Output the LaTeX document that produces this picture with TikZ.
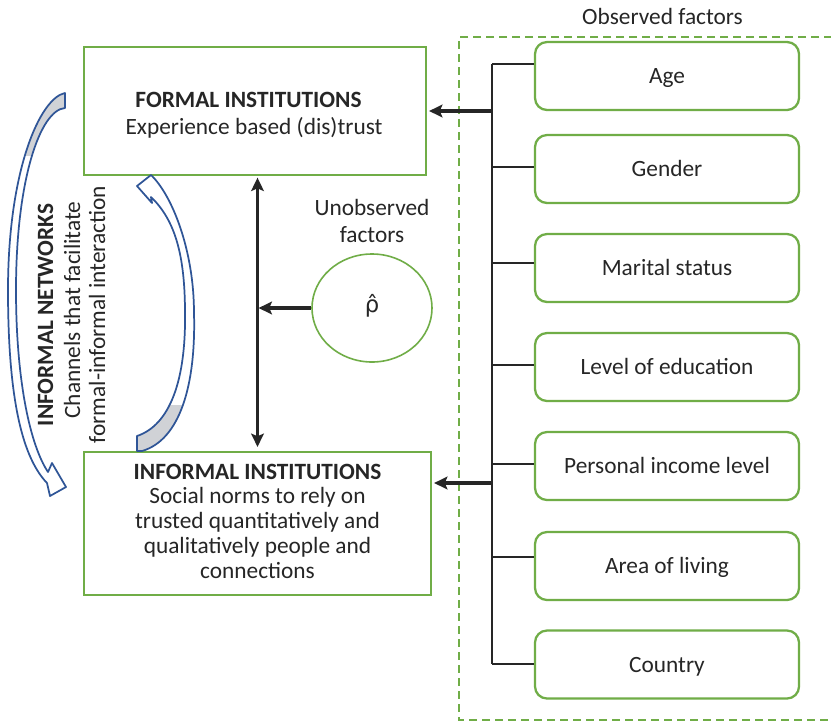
\documentclass[tikz,border=0pt]{standalone}
\usepackage{fontspec}
\setmainfont{Carlito}
\newfontfamily\markfont{DejaVu Sans}
\usetikzlibrary{arrows.meta,shapes.geometric}
\definecolor{boxgreen}{RGB}{112,173,71}
\definecolor{netblue}{RGB}{47,85,151}
\definecolor{netgray}{RGB}{208,210,214}
\definecolor{ink}{RGB}{38,38,38}

% outlines of the two curved "network" arrows
\def\netarrowleft{(65,93) .. controls (40,98) and (8,170) .. (8,290)
  .. controls (8,390) and (20,455) .. (47,483) -- (50,496) -- (66,487)
  -- (52,463) -- (48,472) .. controls (30,445) and (16,380) .. (16,290)
  .. controls (16,180) and (40,110) .. (65,108) -- cycle}
\def\netarrowright{(151,175) .. controls (172,195) and (194,250) .. (194,313)
  .. controls (196,385) and (180,440) .. (142,451) -- (137,451) -- (137,436)
  .. controls (170,425) and (186,380) .. (185,313)
  .. controls (185,255) and (175,220) .. (151,197) -- (152,203) -- (137,186) -- cycle}

\begin{document}
\begin{tikzpicture}[x=0.75pt,y=-0.75pt,
  txt/.style={font=\fontsize{17.5}{21}\selectfont, text=ink, inner sep=0pt},
  bigbox/.style={draw=boxgreen, line width=1.6pt, fill=white, inner sep=0pt},
  factor/.style={txt, draw=boxgreen, line width=1.7pt, rounded corners=9pt,
    minimum width=198pt, minimum height=51pt, text height=11.3pt, text depth=0pt},
  thickarrow/.style={draw=ink, line width=2.3pt, -{Stealth[length=10pt,width=9.5pt,inset=2pt]}},
  dblarrow/.style={draw=ink, line width=1.8pt,
    {Stealth[length=10pt,width=9.5pt,inset=2pt]}-{Stealth[length=10pt,width=9.5pt,inset=2pt]}},
  treeline/.style={draw=ink, line width=1.1pt},
  branch/.style={draw=ink, line width=0.8pt},
  netline/.style={draw=netblue, line width=1.3pt, line join=round}
]
\path[use as bounding box, fill=white] (0,0) rectangle (831,722);

% observed factors group
\draw[boxgreen, line width=1.5pt, dash pattern=on 6pt off 3.75pt]
  (845,37) -- (459,37) -- (459,720) -- (845,720);
\node[txt, anchor=base] (obstitle) at (662.5,24) {Observed factors};

\node[factor] (age)     at (667,76)    {Age};
\node[factor] (gender)  at (667,169)   {Gender};
\node[factor] (marital) at (667,268)   {Marital status};
\node[factor] (educ)    at (667,367)   {Level of education};
\node[factor] (income)  at (667,466)   {Personal income level};
\node[factor] (area)    at (667,566)   {Area of living};
\node[factor] (country) at (667,664.5) {Country};

% tree joining the factors
\coordinate (ttop) at (492,64);
\coordinate (tbot) at (492,664);
\draw[treeline] (ttop) -- (tbot);
\foreach \y/\f in {64/age,167/gender,263/marital,365/educ,464/income,557/area,664/country}{
  \coordinate (b-\f) at (492,\y);
  \draw[branch] (b-\f) -- (b-\f -| \f.west);
}

% institution boxes
\node[bigbox, minimum width=256.5pt, minimum height=96pt] (formal) at (255,111) {};
\node[bigbox, minimum width=260.25pt, minimum height=107.25pt] (informal) at (257.5,523.5) {};

\node[txt, anchor=base, font=\fontsize{17.5}{21}\selectfont\bfseries] (formaltitle) at (248.5,107) {FORMAL INSTITUTIONS};
\node[txt, anchor=base] (formalsub) at (254,134) {Experience based (dis)trust};

\node[txt, anchor=base, font=\fontsize{17.5}{21}\selectfont\bfseries] (inf1) at (257.5,479) {INFORMAL INSTITUTIONS};
\node[txt, anchor=base] (inf2) at (257.5,503.75) {Social norms to rely on};
\node[txt, anchor=base] (inf3) at (257.5,528.5) {trusted quantitatively and};
\node[txt, anchor=base] (inf4) at (257.5,553.25) {qualitatively people and};
\node[txt, anchor=base] (inf5) at (257.5,578) {connections};

% arrows from the factor tree
\coordinate (jf) at (492,111);
\coordinate (ji) at (492,483);
\draw[thickarrow, shorten >=1.5pt] (jf) -- (formal.east);
\draw[thickarrow, shorten >=1.5pt] (ji) -- (ji -| informal.east);

% unobserved factors
\node[txt, anchor=base] (unobs1) at (372,215) {Unobserved};
\node[txt, anchor=base] (unobs2) at (372,242.7) {factors};
\node[draw=boxgreen, line width=1.2pt, ellipse, minimum width=90pt,
  minimum height=81pt, inner sep=0pt] (rhoell) at (372,308) {};
\node[txt, anchor=base, font=\markfont\fontsize{17}{20}\selectfont] (rho) at (372,312) {ρ̂};

% link between formal and informal institutions
\coordinate (vline) at (257.5,0);
\draw[dblarrow, shorten <=1.2pt, shorten >=3pt] (formal.south -| vline) -- (informal.north -| vline);
\draw[thickarrow, shorten >=0.8pt] (rhoell.west) -- (rhoell.west -| vline);

% informal network arrows
\fill[white] \netarrowleft;
\begin{scope}
  \clip (0,60) rectangle (100,155);
  \fill[netgray] \netarrowleft;
\end{scope}
\draw[netline] \netarrowleft;

\fill[white] \netarrowright;
\begin{scope}
  \clip (110,405) rectangle (220,470);
  \fill[netgray] \netarrowright;
\end{scope}
\draw[netline] \netarrowright;

\node[txt, rotate=90, anchor=base, font=\fontsize{17.5}{21}\selectfont\bfseries] (net1) at (53,315) {INFORMAL NETWORKS};
\node[txt, rotate=90, anchor=base] (net2) at (80,310) {Channels that facilitate};
\node[txt, rotate=90, anchor=base] (net3) at (105,314.5) {formal-informal interaction};
\end{tikzpicture}
\end{document}
